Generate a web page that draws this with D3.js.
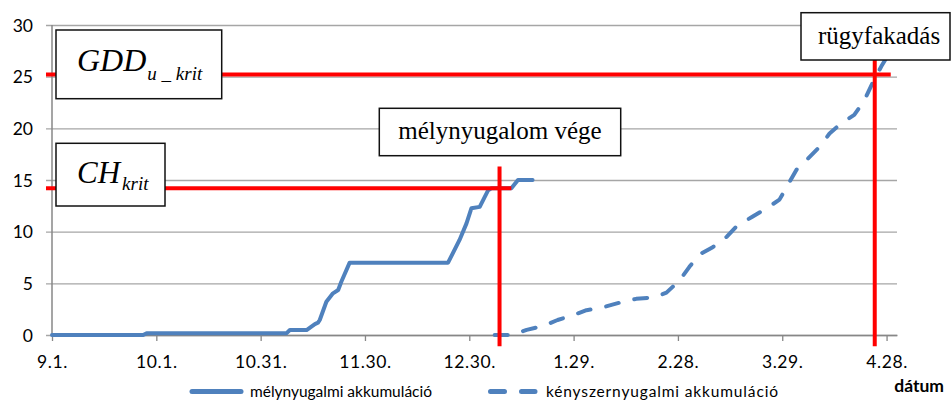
<!DOCTYPE html>
<html><head><meta charset="utf-8">
<script src="https://cdn.jsdelivr.net/npm/d3@7"></script>
<style>
html,body{margin:0;padding:0;background:#fff;}
svg{display:block;}
</style></head>
<body>
<svg id="c" width="951" height="401"></svg>
<script>
// ---- data (days counted from 9.1.) ----
const xTickDays   = [0, 30, 60, 90, 120, 150, 180, 210, 240];
const xTickLabels = ["9.1.", "10.1.", "10.31.", "11.30.", "12.30.", "1.29.", "2.28.", "3.29.", "4.28."];
const yTicks      = [0, 5, 10, 15, 20, 25, 30];

const deepDays   = [0, 26.2, 27.2, 67.4, 68.4, 73.2, 75.6, 76.5, 77, 78.9, 80.8, 82.3, 83.2, 85.6, 113.9, 117.2, 119.2, 120.6, 123, 125.4, 126.4, 132.1, 134, 138.2];
const deepValues = [0, 0, 0.16, 0.16, 0.48, 0.48, 1.06, 1.19, 1.45, 3.22, 4.03, 4.35, 5.16, 7.0, 7.0, 9.2, 10.8, 12.26, 12.4, 14.0, 14.2, 14.2, 15, 15];

const forcedDays   = [127.3, 132.2, 136.5, 141, 145.4, 149.7, 153.7, 157.5, 164, 168, 173.3, 176.7, 180.5, 183.3, 186.2, 190, 194, 196.8, 201.4, 205.7, 209.2, 214.1, 216.9, 220.7, 223.6, 227, 230.7, 233.6, 236, 238.5, 241];
const forcedValues = [0, 0, 0.5, 0.85, 1.45, 1.9, 2.4, 2.6, 3.2, 3.5, 3.65, 4.1, 5.3, 6.6, 7.8, 8.5, 9.5, 10.5, 11.45, 12.3, 13.1, 16.0, 16.9, 18.2, 19.5, 20.5, 21.3, 22.7, 24.4, 26.0, 27.4];

const seriesNames = ["mélynyugalmi akkumuláció", "kényszernyugalmi akkumuláció"];
const xTitle = "dátum";

// threshold reference lines
const chKrit = 14.2, chEndDay = 132.1;          // horizontal CH_krit
const gddKrit = 25.2, gddEndDay = 241.2;        // horizontal GDD_u_krit
const deepEndDay = 128.7, deepEndTop = 16.3;    // vertical "mélynyugalom vége"
const budDay = 236.6, budTop = 30;              // vertical "rügyfakadás"
const lineBottom = -1.1;

// ---- scales ----
const svg = d3.select("#c");
const x = d3.scaleLinear().domain([0, 243]).range([52, 897]);
const y = d3.scaleLinear().domain([0, 30]).range([335, 25]);
const tickLen = 6;
const gridCol = "#a6a6a6", axisCol = "#878787", blue = "#4f81bd", red = "#ff0000";
const sans = "Lato, 'Open Sans', sans-serif";
const serif = "'Liberation Serif', 'Times New Roman', serif";

// gridlines + y labels
const plotW = x.range()[1] - x.range()[0];
const yAxis = d3.axisLeft(y).tickValues(yTicks).tickSize(plotW + tickLen).tickPadding(13);
const gy = svg.append("g").attr("transform", `translate(${x.range()[1]},0)`).call(yAxis);
gy.select(".domain").remove();
gy.selectAll(".tick line").attr("stroke", gridCol).attr("stroke-width", 1.3);
gy.selectAll(".tick text").attr("font-family", sans).attr("font-size", 17.5).attr("fill", "#000").attr("dy", "0.36em")
  .attr("x", -plotW - 19);

// y axis line
svg.append("line").attr("x1", x(0)).attr("x2", x(0)).attr("y1", y(30)).attr("y2", y(0))
  .attr("stroke", axisCol).attr("stroke-width", 1.5);

// x axis
const xAxis = d3.axisBottom(x).tickValues(xTickDays).tickFormat((d, i) => xTickLabels[i]).tickSize(tickLen).tickPadding(15).tickSizeOuter(0);
const gx = svg.append("g").attr("transform", `translate(0,${y(0)})`).call(xAxis);
gx.select(".domain").attr("stroke", axisCol).attr("stroke-width", 1.5);
gx.selectAll(".tick line").attr("stroke", axisCol).attr("stroke-width", 1.3);
gx.selectAll(".tick text").attr("font-family", sans).attr("font-size", 17.5).attr("fill", "#000").attr("letter-spacing", "0.6px");

// series
const line = d3.line().x(d => x(d[0])).y(d => y(d[1]));
svg.append("path").datum(deepDays.map((d, i) => [d, deepValues[i]]))
  .attr("d", line).attr("fill", "none").attr("stroke", blue).attr("stroke-width", 4)
  .attr("stroke-linejoin", "round").attr("stroke-linecap", "round");
svg.append("path").datum(forcedDays.map((d, i) => [d, forcedValues[i]]))
  .attr("d", line).attr("fill", "none").attr("stroke", blue).attr("stroke-width", 4)
  .attr("stroke-linejoin", "round").attr("stroke-linecap", "round").attr("stroke-dasharray", "13,16");

// red reference lines
const rl = svg.append("g").attr("stroke", red).attr("stroke-width", 4);
rl.append("line").attr("x1", x(0) - tickLen).attr("x2", x(chEndDay)).attr("y1", y(chKrit)).attr("y2", y(chKrit));
rl.append("line").attr("x1", x(0) - tickLen).attr("x2", x(gddEndDay)).attr("y1", y(gddKrit)).attr("y2", y(gddKrit));
rl.append("line").attr("x1", x(deepEndDay)).attr("x2", x(deepEndDay)).attr("y1", y(deepEndTop)).attr("y2", y(lineBottom));
rl.append("line").attr("x1", x(budDay)).attr("x2", x(budDay)).attr("y1", y(budTop)).attr("y2", y(lineBottom));

// annotation boxes
function box(x0, y0, w, h) {
  svg.append("rect").attr("x", x0).attr("y", y0).attr("width", w).attr("height", h)
    .attr("fill", "#fff").attr("stroke", "#111").attr("stroke-width", 1.5);
}
box(56, 30, 165.7, 68.7);
const t1 = svg.append("text").attr("x", 77).attr("y", 70.7).attr("font-family", serif).attr("font-style", "italic").attr("font-size", 32);
t1.append("tspan").text("GDD");
t1.append("tspan").attr("font-size", 19).attr("dy", 9.5).attr("dx", 1).attr("xml:space", "preserve").text("u _ krit");

box(56, 143.3, 109, 62.7);
const t2 = svg.append("text").attr("x", 77).attr("y", 183.3).attr("font-family", serif).attr("font-style", "italic").attr("font-size", 31);
t2.append("tspan").text("CH");
t2.append("tspan").attr("font-size", 19).attr("dy", 7).attr("dx", 2).text("krit");

box(379.3, 108.3, 241.4, 47.4);
svg.append("text").attr("x", 500).attr("y", 139.3).attr("text-anchor", "middle").attr("font-family", serif).attr("font-size", 25).text("mélynyugalom vége");

box(801, 12.7, 149, 47.3);
svg.append("text").attr("x", 818).attr("y", 44.3).attr("font-family", serif).attr("font-size", 25).text("rügyfakadás");

// axis title
svg.append("text").attr("x", 944).attr("y", 391.5).attr("text-anchor", "end").attr("font-family", sans)
  .attr("font-weight", "bold").attr("font-size", 17.5).text(xTitle);

// legend
const lg = svg.append("g");
lg.append("line").attr("x1", 192).attr("x2", 241).attr("y1", 391.5).attr("y2", 391.5)
  .attr("stroke", blue).attr("stroke-width", 5).attr("stroke-linecap", "round");
lg.append("text").attr("x", 250).attr("y", 397).attr("font-family", sans).attr("font-size", 15.5)
  .attr("textLength", 182).attr("lengthAdjust", "spacing").text(seriesNames[0]);
lg.append("line").attr("x1", 490.5).attr("x2", 535).attr("y1", 391.5).attr("y2", 391.5)
  .attr("stroke", blue).attr("stroke-width", 5).attr("stroke-linecap", "round").attr("stroke-dasharray", "14,17");
lg.append("text").attr("x", 546).attr("y", 397).attr("font-family", sans).attr("font-size", 15.5)
  .attr("textLength", 232).attr("lengthAdjust", "spacing").text(seriesNames[1]);
</script>
</body></html>
